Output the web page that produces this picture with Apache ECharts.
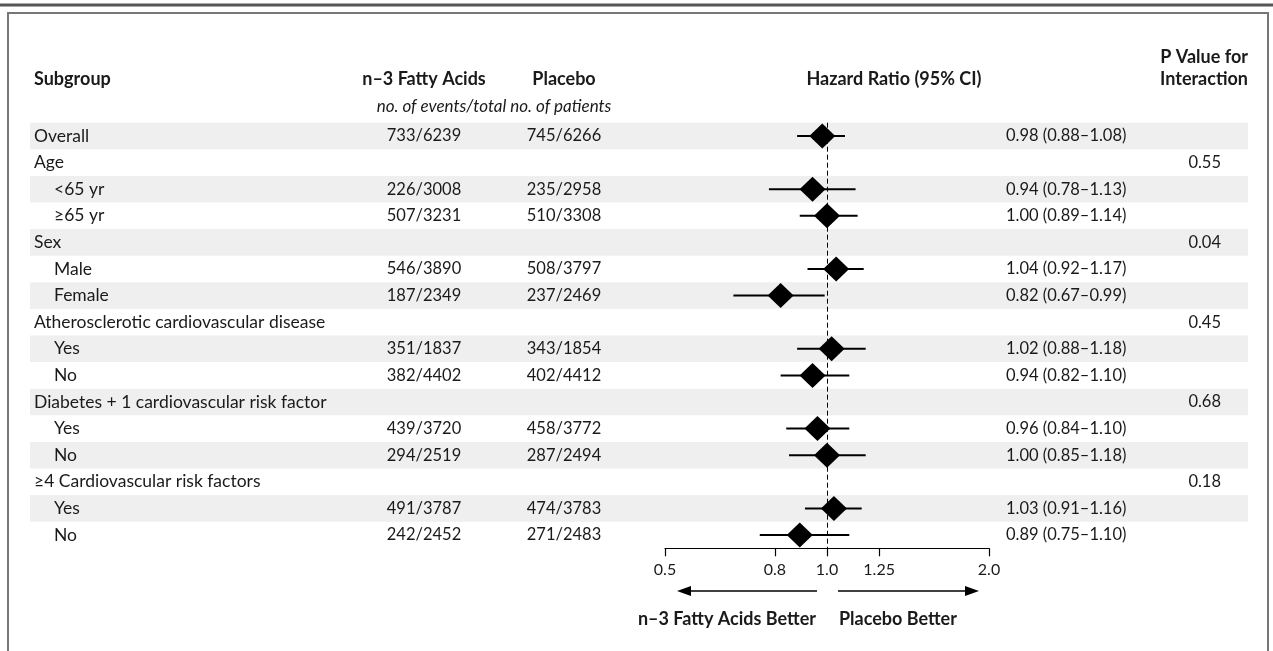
<!DOCTYPE html>
<html><head><meta charset="utf-8">
<script src="https://cdn.jsdelivr.net/npm/echarts@6/dist/echarts.min.js"></script>
<style>html,body{margin:0;padding:0;background:#fff}#c{width:1273px;height:651px}</style>
</head><body><div id="c"></div>
<script>
// ---- data ----
const subgroups = ['Overall','Age','<65 yr','≥65 yr','Sex','Male','Female','Atherosclerotic cardiovascular disease','Yes','No','Diabetes + 1 cardiovascular risk factor','Yes','No','≥4 Cardiovascular risk factors','Yes','No'];
const indentLevel = [0,0,1,1,0,1,1,0,1,1,0,1,1,0,1,1];
const n3Events = ['733/6239','','226/3008','507/3231','','546/3890','187/2349','','351/1837','382/4402','','439/3720','294/2519','','491/3787','242/2452'];
const placeboEvents = ['745/6266','','235/2958','510/3308','','508/3797','237/2469','','343/1854','402/4412','','458/3772','287/2494','','474/3783','271/2483'];
const hazardRatio = [0.98,null,0.94,1.00,null,1.04,0.82,null,1.02,0.94,null,0.96,1.00,null,1.03,0.89];
const ciLow =       [0.88,null,0.78,0.89,null,0.92,0.67,null,0.88,0.82,null,0.84,0.85,null,0.91,0.75];
const ciHigh =      [1.08,null,1.13,1.14,null,1.17,0.99,null,1.18,1.10,null,1.10,1.18,null,1.16,1.10];
const hrText = ['0.98 (0.88–1.08)','','0.94 (0.78–1.13)','1.00 (0.89–1.14)','','1.04 (0.92–1.17)','0.82 (0.67–0.99)','','1.02 (0.88–1.18)','0.94 (0.82–1.10)','','0.96 (0.84–1.10)','1.00 (0.85–1.18)','','1.03 (0.91–1.16)','0.89 (0.75–1.10)'];
const pInteraction = ['','0.55','','','0.04','','','0.45','','','0.68','','','0.18','',''];
const tickValues = [0.5, 0.8, 1.0, 1.25, 2.0];
const tickLabels = ['0.5','0.8','1.0','1.25','2.0'];

// ---- layout ----
const FONT = 'Lato, "Open Sans", sans-serif';
const TXT = '#1a1a1a';
const GRID_TOP = 122.7, GRID_H = 425.6;
const COL = {sub: 34, indent: 20, n3: 424, pl: 564, hr: 1006, p: 1221, stripeL: 30, stripeR: 1248};
const AX_L = 665, AX_R = 989;
const BODY = '16.5px ' + FONT;
const SUBFONT = '17.5px ' + FONT;
const bold = '700 18px ' + FONT;

const chart = echarts.init(document.getElementById('c'), null, {renderer: 'canvas'});
const rows = subgroups.map((_, i) => i);
const L2 = v => Math.log2(v);

function tableItem(params, api) {
  const i = api.value(1);
  const y = api.coord([0, i])[1];
  const band = api.size([0, 1])[1];
  const children = [];
  if (i % 2 === 0) {
    children.push({type: 'rect', shape: {x: COL.stripeL, y: y - band / 2, width: COL.stripeR - COL.stripeL, height: band}, style: {fill: '#efefef'}, z2: 0});
  }
  const t = (text, x, align, font) => ({type: 'text', z2: 5, style: {text: text, x: x, y: y, align: align, verticalAlign: 'middle', font: font || BODY, fill: TXT}});
  children.push(t(subgroups[i], COL.sub + indentLevel[i] * COL.indent, 'left', SUBFONT));
  if (n3Events[i]) children.push(t(n3Events[i], COL.n3, 'center'));
  if (placeboEvents[i]) children.push(t(placeboEvents[i], COL.pl, 'center'));
  if (hrText[i]) children.push(t(hrText[i], COL.hr, 'left'));
  if (pInteraction[i]) children.push(t(pInteraction[i], COL.p, 'right'));
  return {type: 'group', children: children};
}

const ciData = [], pointData = [];
rows.forEach(i => {
  if (hazardRatio[i] != null) {
    ciData.push([L2(ciLow[i]), L2(ciHigh[i]), i]);
    pointData.push([L2(hazardRatio[i]), i]);
  }
});

function ciItem(params, api) {
  const p1 = api.coord([api.value(0), api.value(2)]);
  const p2 = api.coord([api.value(1), api.value(2)]);
  return {type: 'line', shape: {x1: p1[0], y1: p1[1], x2: p2[0], y2: p2[1]}, style: {stroke: '#000', lineWidth: 2}};
}

const logTicks = tickValues.map(L2);
function tickFormatter(v) {
  let best = 0;
  logTicks.forEach((t, k) => { if (Math.abs(t - v) < Math.abs(logTicks[best] - v)) best = k; });
  return tickLabels[best];
}

const yCat = {type: 'category', data: rows, inverse: true, show: false, boundaryGap: true};
const ARROW_Y = 591;
function arrowHead(x, dir) {
  return {type: 'polygon', shape: {points: [[x, ARROW_Y], [x - dir * 14, ARROW_Y - 5], [x - dir * 14, ARROW_Y + 5]]}, style: {fill: '#000'}};
}

const option = {
  backgroundColor: '#fff',
  animation: false,
  grid: [
    {left: 0, right: 0, top: GRID_TOP, height: GRID_H},
    {left: AX_L, right: 1273 - AX_R, top: GRID_TOP, height: GRID_H}
  ],
  xAxis: [
    {type: 'value', gridIndex: 0, min: 0, max: 1273, show: false},
    {type: 'value', gridIndex: 1, min: -1, max: 1,
     splitLine: {show: false},
     axisLine: {show: true, lineStyle: {color: '#000', width: 1.2}},
     axisTick: {show: true, customValues: logTicks, length: 8, lineStyle: {color: '#000', width: 1.2}},
     axisLabel: {show: true, customValues: logTicks, formatter: tickFormatter, fontSize: 16, color: TXT, fontFamily: FONT, margin: 14}}
  ],
  yAxis: [Object.assign({gridIndex: 0}, yCat), Object.assign({gridIndex: 1}, yCat)],
  series: [
    {type: 'custom', name: 'table', xAxisIndex: 0, yAxisIndex: 0, clip: false, z: 1,
     data: rows.map(i => [0, i]), renderItem: tableItem, silent: true},
    {type: 'custom', name: 'ci', xAxisIndex: 1, yAxisIndex: 1, clip: false, z: 3,
     encode: {x: [0, 1], y: 2}, data: ciData, renderItem: ciItem, silent: true},
    {type: 'scatter', name: 'hr', xAxisIndex: 1, yAxisIndex: 1, z: 4,
     symbol: 'diamond', symbolSize: [26, 25], itemStyle: {color: '#000', opacity: 1}, data: pointData, silent: true,
     markLine: {silent: true, symbol: ['none', 'none'], label: {show: false},
       lineStyle: {color: '#000', width: 1, type: [5, 3]}, data: [{xAxis: 0}]}}
  ],
  graphic: [
    {type: 'line', shape: {x1: 0, y1: 5, x2: 1273, y2: 5}, style: {stroke: '#555', lineWidth: 3}},
    {type: 'rect', shape: {x: 8, y: 13, width: 1260, height: 700}, style: {fill: null, stroke: '#777', lineWidth: 2}},
    {type: 'text', style: {text: 'Subgroup', x: COL.sub, y: 79, align: 'left', verticalAlign: 'middle', font: bold, fill: TXT}},
    {type: 'text', style: {text: 'n–3 Fatty Acids', x: COL.n3, y: 79, align: 'center', verticalAlign: 'middle', font: bold, fill: TXT}},
    {type: 'text', style: {text: 'Placebo', x: COL.pl, y: 79, align: 'center', verticalAlign: 'middle', font: bold, fill: TXT}},
    {type: 'text', style: {text: 'Hazard Ratio (95% CI)', x: 894, y: 79, align: 'center', verticalAlign: 'middle', font: bold, fill: TXT}},
    {type: 'text', style: {text: 'P Value for', x: 1248, y: 57, align: 'right', verticalAlign: 'middle', font: bold, fill: TXT}},
    {type: 'text', style: {text: 'Interaction', x: 1248, y: 79, align: 'right', verticalAlign: 'middle', font: bold, fill: TXT}},
    {type: 'text', style: {text: 'no. of events/total no. of patients', x: 494, y: 107, align: 'center', verticalAlign: 'middle', font: 'italic 17px ' + FONT, fill: TXT}},
    {type: 'line', shape: {x1: 817, y1: ARROW_Y, x2: 680, y2: ARROW_Y}, style: {stroke: '#000', lineWidth: 1.5}},
    arrowHead(677, -1),
    {type: 'line', shape: {x1: 838, y1: ARROW_Y, x2: 976, y2: ARROW_Y}, style: {stroke: '#000', lineWidth: 1.5}},
    arrowHead(979, 1),
    {type: 'text', style: {text: 'n–3 Fatty Acids Better', x: 816, y: 619, align: 'right', verticalAlign: 'middle', font: bold, fill: TXT}},
    {type: 'text', style: {text: 'Placebo Better', x: 839, y: 619, align: 'left', verticalAlign: 'middle', font: bold, fill: TXT}}
  ]
};
chart.setOption(option);
</script>
</body></html>
